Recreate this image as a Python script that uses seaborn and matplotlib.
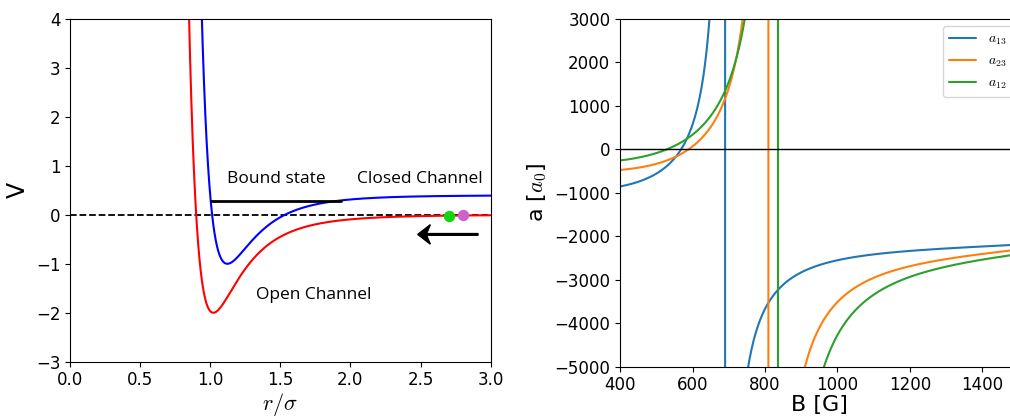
import numpy as np
import pandas as pd
import matplotlib
matplotlib.use("Agg")
import matplotlib.pyplot as plt
import seaborn as sns

sns.set_style("ticks")
plt.rcParams["mathtext.fontset"] = "cm"
plt.rcParams["font.family"] = ["DejaVu Sans"]
for key in ["text.color", "axes.labelcolor", "xtick.color", "ytick.color", "axes.edgecolor"]:
    plt.rcParams[key] = "black"

# --- two-channel picture: Lennard-Jones type potentials (energy units, r in sigma)
open_depth = 2.0        # well depth of the open channel
open_shift = 0.1        # open channel sits 0.1 sigma further in
closed_depth = 1.4      # well depth of the closed channel
closed_offset = 0.4     # threshold of the closed channel
bound_energy = 0.29     # bound state of the closed channel
bound_span = [1.003, 1.93]  # classical turning points of that state
atom_r = [2.7, 2.8]     # incoming atom pair
atom_colors = ["#12d612", "#cc62cc"]

# --- 6Li Feshbach resonances: a = a_bg (1 + Delta/(B-B0)) (1 + alpha (B-B0) + beta (B-B0)^2)
channels = ["$a_{13}$", "$a_{23}$", "$a_{12}$"]
res_B0 = [690.0, 809.5, 836.0]          # G
res_width = [121.6, 220.7, 307.2]       # G
res_abg = [-1682.1, -1490.3, -1362.4]   # a0
res_alpha = [3.636e-4, 5.718e-4, 6.368e-4]
res_beta = [-2.472e-7, -4.670e-7, -4.842e-7]


def lj(r, depth, sigma=1.0):
    s6 = (sigma / r) ** 6
    return 4 * depth * (s6 * s6 - s6)


fig = plt.figure(figsize=(10.1, 4.17), dpi=100)
ax1 = fig.add_axes([0.0693, 0.1326, 0.4165, 0.8218])
ax2 = fig.add_axes([0.6139, 0.1206, 0.3946, 0.8338])

# ---------------- left panel: potentials
r = np.linspace(0.78, 3.0, 3000)
v_open = lj(r + open_shift, open_depth)
v_closed = lj(r, closed_depth) + closed_offset
pot = pd.DataFrame({"r": np.concatenate([r, r]),
                    "V": np.concatenate([v_open, v_closed]),
                    "channel": ["open"] * len(r) + ["closed"] * len(r)})
sns.lineplot(data=pot, x="r", y="V", hue="channel", palette={"open": "red", "closed": "blue"},
             ax=ax1, lw=1.5, legend=False, sort=False)
ax1.axhline(0, color="k", ls="--", lw=1.3, zorder=1)
ax1.plot(bound_span, [bound_energy, bound_energy], color="k", lw=2)
atom_v = lj(np.array(atom_r) + open_shift, open_depth)
for x0, y0, c in zip(atom_r, atom_v, atom_colors):
    ax1.plot(x0, y0, "o", color=c, ms=7.2, zorder=5)
ax1.arrow(2.91, -0.4, -0.43, 0, width=0.035, head_width=0.4, head_length=0.09,
          overhang=0.3, length_includes_head=True, color="k", zorder=5)

label_font = dict(family=["Open Sans", "DejaVu Sans"], fontsize=12.5)
ax1.text(1.12, 0.73, "Bound state", ha="left", va="center", **label_font)
ax1.text(2.05, 0.73, "Closed Channel", ha="left", va="center", **label_font)
ax1.text(1.33, -1.64, "Open Channel", ha="left", va="center", **label_font)

ax1.set_xlim(0, 3)
ax1.set_ylim(-3, 4)
ax1.set_xticks(np.arange(0, 3.01, 0.5))
ax1.set_yticks(np.arange(-3, 5, 1))
ax1.set_xlabel(r"$r/\sigma$", fontsize=16, labelpad=1)
ax1.set_ylabel("V", fontsize=17)
ax1.tick_params(labelsize=12)

# ---------------- right panel: scattering lengths
B = np.linspace(400, 1500, 22001)
for name, B0, dlt, abg, al, be, col in zip(channels, res_B0, res_width, res_abg,
                                          res_alpha, res_beta, ["C0", "C1", "C2"]):
    x = B - B0
    a = abg * (1 + dlt / x) * (1 + al * x + be * x**2)
    sns.lineplot(x=B, y=a, ax=ax2, color=col, lw=1.5, label=name, sort=False)
ax2.axhline(0, color="k", lw=1)
ax2.set_xlim(400, 1500)
ax2.set_ylim(-5000, 3000)
ax2.set_xticks(np.arange(400, 1401, 200))
ax2.set_yticks(np.arange(-5000, 3001, 1000))
ax2.legend(loc="upper right", fontsize=10)
ax2.set_xlabel("B [G]", fontsize=16, labelpad=0.5)
ax2.set_ylabel("a [$a_0$]", fontsize=16)
ax2.tick_params(labelsize=12)

fig.savefig("out.png", dpi=100)
